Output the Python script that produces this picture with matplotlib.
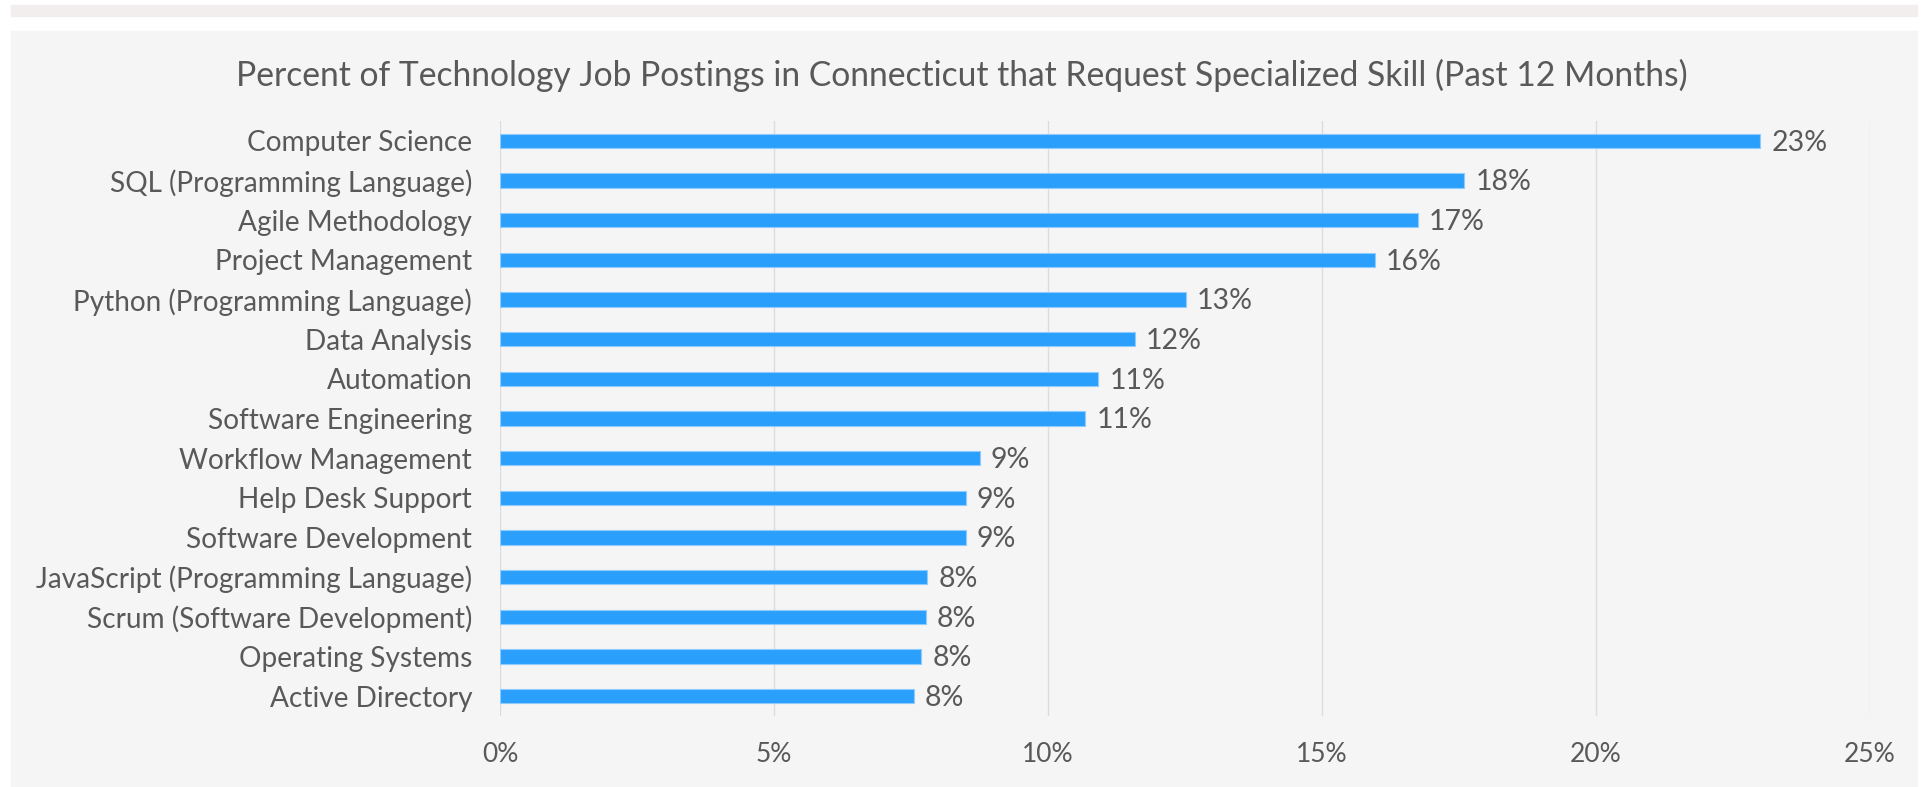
from matplotlib import pyplot as plt
from matplotlib.patches import Rectangle

skills = ['Computer Science', 'SQL (Programming Language)', 'Agile Methodology',
          'Project Management', 'Python (Programming Language)', 'Data Analysis',
          'Automation', 'Software Engineering', 'Workflow Management',
          'Help Desk Support', 'Software Development',
          'JavaScript (Programming Language)', 'Scrum (Software Development)',
          'Operating Systems', 'Active Directory']
pct = [23.0, 17.6, 16.75, 15.97, 12.52, 11.58, 10.92, 10.68, 8.75, 8.5, 8.5,
       7.8, 7.77, 7.69, 7.55]
pct_labels = ['23%', '18%', '17%', '16%', '13%', '12%', '11%', '11%', '9%',
              '9%', '9%', '8%', '8%', '8%', '8%']
xticks = [0, 5, 10, 15, 20, 25]

TXT = '#595959'
plt.rcParams['font.family'] = ['Lato', 'DejaVu Sans']

fig = plt.figure(figsize=(19.21, 7.87), dpi=100)
fig.patch.set_facecolor('white')
# top band and panel background
fig.patches.append(Rectangle((11/1921, 1-16/787), 1906/1921, 11/787,
                             transform=fig.transFigure, color='#f2eeed', zorder=-5))
fig.patches.append(Rectangle((11/1921, 0), 1906/1921, 1-31/787,
                             transform=fig.transFigure, color='#f5f5f5', zorder=-5))

ax = fig.add_axes([500/1921, 1-716/787, 1370/1921, 595/787])
ax.set_zorder(2)
ax.set_facecolor('none')
y = list(range(len(skills)))
ax.barh(y, pct, height=0.36, color='#2b9ffc', edgecolor='#8ecbff', linewidth=0.8, zorder=3)
for yi, v, lab in zip(y, pct, pct_labels):
    ax.text(v + 0.2, yi + 0.05, lab, va='center', ha='left',
            fontsize=20.5, color=TXT)

ax.set_ylim(len(skills) - 0.5, -0.5)
ax.set_xlim(0, 25)
ax.set_yticks(y)
ax.set_yticklabels(skills, fontsize=20.2, color=TXT)
ax.set_xticks(xticks)
ax.set_xticklabels(['%d%%' % t for t in xticks], fontsize=19, color=TXT)
ax.tick_params(axis='both', length=0)
ax.tick_params(axis='y', pad=20)
ax.tick_params(axis='x', pad=19)
ax.grid(axis='x', color='#dcdcdc', linewidth=1.0, zorder=0)
for s in ax.spines.values():
    s.set_visible(False)

fig.text(962/1921, 1-75/787,
         'Percent of Technology Job Postings in Connecticut that Request Specialized Skill (Past 12 Months)',
         ha='center', va='center', fontsize=24.2, color=TXT)

fig.savefig('out.png', dpi=100)
